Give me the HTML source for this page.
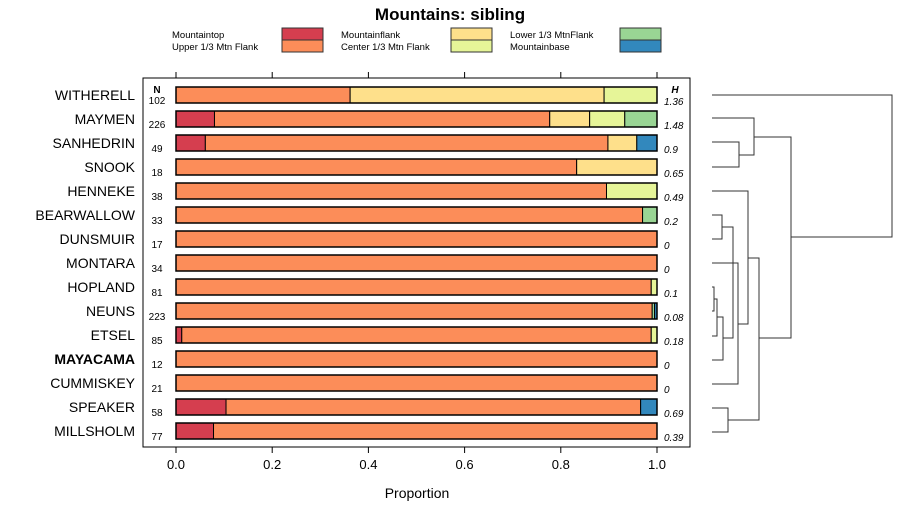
<!DOCTYPE html>
<html><head><meta charset="utf-8"><style>
body{margin:0;background:#fff;font-family:"Liberation Sans",sans-serif}
</style></head><body>
<svg id="c" width="900" height="520" xmlns="http://www.w3.org/2000/svg" font-family="Liberation Sans, sans-serif">
<text x="450" y="20" text-anchor="middle" font-size="17" font-weight="bold">Mountains: sibling</text>
<g id="legend"></g>
<rect x="143" y="78" width="547" height="369" fill="none" stroke="#000"/>
<g id="bars"></g>
<g id="axis"></g>
<text x="417" y="498" text-anchor="middle" font-size="14">Proportion</text>
<text x="157" y="93" text-anchor="middle" font-size="10" font-weight="bold">N</text>
<text x="675" y="93" text-anchor="middle" font-size="10" font-weight="bold" font-style="italic">H</text>
<g fill="none" stroke="#333" stroke-width="1">
<path d="M712 95H892V237H791"/>
<path d="M712 118H754V155H739"/>
<path d="M712 142H739V167H712"/>
<path d="M754 137H791V338H759"/>
<path d="M712 191H748V324H738"/>
<path d="M748 258H759V420H728"/>
<path d="M712 215H722V239H712"/>
<path d="M722 227H733V338H723"/>
<path d="M712 263H738V384H712"/>
<path d="M712 287H714V311H712"/>
<path d="M714 299H717V336H712"/>
<path d="M717 317H723V360H712"/>
<path d="M712 408H728V432H712"/>
</g>
</svg>
<script>
const categories=["Mountaintop","Upper 1/3 Mtn Flank","Mountainflank","Center 1/3 Mtn Flank","Lower 1/3 MtnFlank","Mountainbase"];
const colors=["#d53e4f","#fc8d59","#fee08b","#e6f598","#99d594","#3288bd"];
const sites=["WITHERELL","MAYMEN","SANHEDRIN","SNOOK","HENNEKE","BEARWALLOW","DUNSMUIR","MONTARA","HOPLAND","NEUNS","ETSEL","MAYACAMA","CUMMISKEY","SPEAKER","MILLSHOLM"];
const nValues=[102,226,49,18,38,33,17,34,81,223,85,12,21,58,77];
const hValues=["1.36","1.48","0.9","0.65","0.49","0.2","0","0","0.1","0.08","0.18","0","0","0.69","0.39"];
const mountaintop=[0,0.08,0.061,0,0,0,0,0,0,0,0.012,0,0,0.104,0.078];
const upperFlank=[0.362,0.697,0.837,0.833,0.895,0.97,1,1,0.988,0.99,0.976,1,1,0.862,0.922];
const mountainflank=[0.528,0.083,0.06,0.167,0,0,0,0,0,0,0,0,0,0,0];
const centerFlank=[0.11,0.073,0,0,0.105,0,0,0,0.012,0,0.012,0,0,0,0];
const lowerFlank=[0,0.067,0,0,0,0.03,0,0,0,0.005,0,0,0,0,0];
const mountainbase=[0,0,0.042,0,0,0,0,0,0,0.005,0,0,0,0.034,0];
const ticks=[0,0.2,0.4,0.6,0.8,1.0];
const tickLabels=["0.0","0.2","0.4","0.6","0.8","1.0"];
const series=[mountaintop,upperFlank,mountainflank,centerFlank,lowerFlank,mountainbase];
const NS="http://www.w3.org/2000/svg";
const x=v=>176+v*481;
const y=i=>95+i*24;
function mk(t,a,p){const e=document.createElementNS(NS,t);for(const k in a)e.setAttribute(k,a[k]);p.appendChild(e);return e;}
const bars=document.getElementById('bars');
sites.forEach((s,i)=>{
  let acc=0;
  series.forEach((arr,j)=>{
    const v=arr[i];if(v<=0)return;
    const r=mk('rect',{x:x(acc),y:y(i)-8,width:x(acc+v)-x(acc),height:16,fill:colors[j],stroke:'#000','stroke-width':1},bars);
    
    
    acc+=v;
  });
  const o=mk('rect',{x:x(0),y:y(i)-8,width:x(1)-x(0),height:16,fill:'none',stroke:'#000','stroke-width':1.5},bars);
  
  
  const l=mk('text',{x:135,y:y(i)+5,'text-anchor':'end','font-size':14},bars);
  
  
  if(s==="MAYACAMA")l.setAttribute('font-weight','bold');
  l.textContent=s;
  const n=mk('text',{x:157,y:y(i)+9,'text-anchor':'middle','font-size':10},bars);
  
  
  n.textContent=nValues[i];
  const h=mk('text',{x:664,y:y(i)+10,'font-size':10,'font-style':'italic'},bars);
  
  
  h.textContent=hValues[i];
});
const ax=document.getElementById('axis');
ticks.forEach((t,i)=>{
  const a=mk('line',{x1:x(t),x2:x(t),y1:447,y2:453,stroke:'#000'},ax);
  
  
  const b=mk('line',{x1:x(t),x2:x(t),y1:72,y2:78,stroke:'#000'},ax);
  
  
  const tx=mk('text',{x:x(t),y:469,'text-anchor':'middle','font-size':13},ax);
  
  
  tx.textContent=tickLabels[i];
});
const lg=document.getElementById('legend');
categories.forEach((c,j)=>{
  const col=Math.floor(j/2),row=j%2;
  const lx=172+col*169,ly=38+row*12;
  const t=mk('text',{x:lx,y:ly,'font-size':9.5},lg);
  
  
  t.textContent=c;
  const r=mk('rect',{x:lx+110,y:ly-10,width:41,height:12,fill:colors[j],stroke:'#333'},lg);
  
  
});
</script>
</body></html>
